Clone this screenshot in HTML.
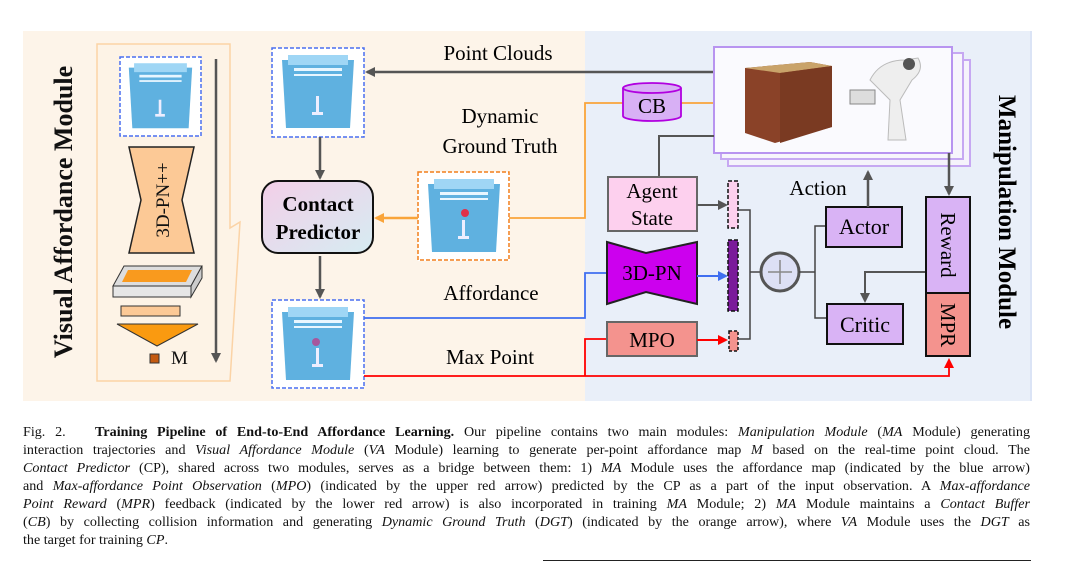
<!DOCTYPE html>
<html><head><meta charset="utf-8"><style>
body{margin:0;background:#fff;}
#w{position:relative;width:1070px;height:564px;overflow:hidden;background:#fff;font-family:"Liberation Serif",serif;}
.cl{position:absolute;left:23px;width:1007px;font-size:14.1px;line-height:18px;text-align:justify;text-align-last:justify;white-space:nowrap;color:#111;}
.cl.last{text-align-last:left;}
svg text{font-family:"Liberation Serif",serif;}
</style></head><body><div id="w">
<svg width="1070" height="410" style="position:absolute;left:0;top:0">
<defs>
<marker id="ag" markerWidth="10" markerHeight="10" refX="8" refY="5" orient="auto" markerUnits="userSpaceOnUse"><path d="M0,0 L10,5 L0,10z" fill="#555"/></marker>
<marker id="ao" markerWidth="10" markerHeight="10" refX="8" refY="5" orient="auto" markerUnits="userSpaceOnUse"><path d="M0,0 L10,5 L0,10z" fill="#f9a43a"/></marker>
<marker id="ab" markerWidth="10" markerHeight="10" refX="8" refY="5" orient="auto" markerUnits="userSpaceOnUse"><path d="M0,0 L10,5 L0,10z" fill="#3f6ef0"/></marker>
<marker id="ar" markerWidth="10" markerHeight="10" refX="8" refY="5" orient="auto" markerUnits="userSpaceOnUse"><path d="M0,0 L10,5 L0,10z" fill="#f00"/></marker>
<linearGradient id="cpg" x1="0" y1="0" x2="1" y2="1"><stop offset="0" stop-color="#f3cfe8"/><stop offset="1" stop-color="#d6ecf2"/></linearGradient>
<g id="cab">
<rect x="0" y="0" width="92" height="89" fill="#fff"/>
<path d="M10,12 L82,12 L78,80 L14,80z" fill="#5fb1e0"/>
<rect x="16" y="7" width="60" height="10" fill="#9fd6f5"/>
<rect x="22" y="20" width="48" height="3" fill="#e8f6ff"/>
<rect x="22" y="26" width="48" height="2" fill="#e8f6ff"/>
<rect x="44" y="48" width="3" height="18" fill="#eef"/>
<rect x="40" y="64" width="11" height="3" fill="#eef"/>
</g>
</defs>
<rect x="23" y="31" width="562" height="370" fill="#fdf4e9"/>
<rect x="585" y="31" width="447" height="370" fill="#e9eff9"/>
<rect x="1030" y="31" width="2" height="370" fill="#dbe4f6"/>
<path d="M97,44 L230,44 L230,228 L240,222 L230,381 L97,381z" fill="#fdf3e6" stroke="#fbd3a6" stroke-width="1.5"/>
<text transform="translate(72,212) rotate(-90)" text-anchor="middle" font-size="26" font-weight="bold" fill="#111">Visual Affordance Module</text>
<g transform="translate(120,57) scale(0.88,0.89)"><use href="#cab"/></g>
<rect x="120" y="57" width="81" height="79" fill="none" stroke="#4a6ff0" stroke-width="1.5" stroke-dasharray="4,2"/>
<path d="M129,147 L194,147 L182,200 L194,253 L129,253 L141,200z" fill="#fcc996" stroke="#222" stroke-width="1.5"/>
<text transform="translate(169,200) rotate(-90)" text-anchor="middle" font-size="19" fill="#111">3D-PN++</text>
<path d="M113,286 L124,266 L202,266 L191,286z" fill="#ddd" stroke="#333" stroke-width="1"/>
<path d="M113,286 L191,286 L191,297 L113,297z" fill="#e6e6e6" stroke="#333" stroke-width="1"/>
<path d="M191,286 L202,266 L202,278 L191,297z" fill="#ccc" stroke="#333" stroke-width="1"/>
<path d="M122,282 L128,270 L192,270 L186,282z" fill="#f99a1e"/>
<rect x="121" y="306" width="59" height="10" fill="#fcc996" stroke="#333" stroke-width="1"/>
<path d="M117,324 L198,324 L157,346z" fill="#fa9a10" stroke="#333" stroke-width="1"/>
<rect x="150" y="354" width="9" height="9" fill="#c45a10" stroke="#333" stroke-width="1"/>
<text x="171" y="364" font-size="19" fill="#111">M</text>
<line x1="216" y1="59" x2="216" y2="361" stroke="#555" stroke-width="2.5" marker-end="url(#ag)"/>
<use href="#cab" x="272" y="48"/>
<rect x="272" y="48" width="92" height="89" fill="none" stroke="#4a6ff0" stroke-width="1.5" stroke-dasharray="4,2"/>
<use href="#cab" x="272" y="300"/>
<circle cx="316" cy="342" r="4" fill="#c43080" opacity="0.7"/>
<rect x="272" y="300" width="92" height="88" fill="none" stroke="#4a6ff0" stroke-width="1.5" stroke-dasharray="4,2"/>
<use href="#cab" x="418" y="172"/>
<circle cx="465" cy="213" r="4" fill="#e0304a"/>
<rect x="418" y="172" width="91" height="88" fill="none" stroke="#f27f1b" stroke-width="1.5" stroke-dasharray="4,2"/>
<rect x="262" y="181" width="111" height="72" rx="16" fill="url(#cpg)" stroke="#111" stroke-width="2"/>
<text x="318" y="211" text-anchor="middle" font-size="21" font-weight="bold">Contact</text>
<text x="318" y="239" text-anchor="middle" font-size="21" font-weight="bold">Predictor</text>
<line x1="320" y1="137" x2="320" y2="178" stroke="#555" stroke-width="2.5" marker-end="url(#ag)"/>
<line x1="320" y1="256" x2="320" y2="297" stroke="#555" stroke-width="2.5" marker-end="url(#ag)"/>
<line x1="418" y1="218" x2="376" y2="218" stroke="#f9a43a" stroke-width="2.5" marker-end="url(#ao)"/>
<text x="498" y="60" text-anchor="middle" font-size="21">Point Clouds</text>
<text x="500" y="123" text-anchor="middle" font-size="21">Dynamic</text>
<text x="500" y="153" text-anchor="middle" font-size="21">Ground Truth</text>
<text x="491" y="300" text-anchor="middle" font-size="21">Affordance</text>
<text x="490" y="364" text-anchor="middle" font-size="21">Max Point</text>
<line x1="714" y1="72" x2="367" y2="72" stroke="#555" stroke-width="2.5" marker-end="url(#ag)"/>
<polyline points="509,218 585,218 585,103 714,103" fill="none" stroke="#f9a43a" stroke-width="1.8"/>
<polyline points="364,318 585,318 585,273 607,273" fill="none" stroke="#3f6ef0" stroke-width="1.8"/>
<polyline points="364,376 949,376 949,360" fill="none" stroke="#f00" stroke-width="1.8" marker-end="url(#ar)"/>
<polyline points="585,376 585,339 607,339" fill="none" stroke="#f00" stroke-width="1.8"/>
<path d="M623,88 L623,116 A29,5 0 0 0 681,116 L681,88" fill="#d8b0f5" stroke="#b100e0" stroke-width="1.8"/>
<ellipse cx="652" cy="88" rx="29" ry="5" fill="#d8b0f5" stroke="#b100e0" stroke-width="1.8"/>
<text x="652" y="113" text-anchor="middle" font-size="21">CB</text>
<rect x="728" y="60" width="242" height="106" fill="#f5f3fb" stroke="#c6a8f2" stroke-width="2"/>
<rect x="721" y="53" width="242" height="106" fill="#f7f5fc" stroke="#c6a8f2" stroke-width="2"/>
<rect x="714" y="47" width="238" height="106" fill="#fafafe" stroke="#b894f0" stroke-width="2"/>
<path d="M745,68 L810,62 L832,66 L832,127 L775,143 L745,133z" fill="#8a4228"/>
<path d="M745,68 L810,62 L832,66 L780,73z" fill="#c9a36a"/>
<path d="M780,73 L832,66 L832,127 L780,143z" fill="#7a3a22"/>
<path d="M870,80 Q880,60 905,60 L918,58 Q925,70 912,80 L900,100 L906,140 L888,140 L890,100z" fill="#eee" stroke="#bbb"/>
<circle cx="909" cy="64" r="6" fill="#555"/>
<rect x="850" y="90" width="25" height="14" fill="#ddd" stroke="#888"/>
<polyline points="714,136 659,136 659,177" fill="none" stroke="#555" stroke-width="2"/>
<rect x="608" y="177" width="89" height="54" fill="#fdd0ee" stroke="#666" stroke-width="2"/>
<text x="652" y="198" text-anchor="middle" font-size="21">Agent</text>
<text x="652" y="225" text-anchor="middle" font-size="21">State</text>
<path d="M607,242 L646,253 L697,242 L697,304 L646,292 L607,304z" fill="#cc00ee" stroke="#222" stroke-width="2"/>
<text x="652" y="280" text-anchor="middle" font-size="21">3D-PN</text>
<rect x="607" y="322" width="90" height="34" fill="#f4938e" stroke="#666" stroke-width="2"/>
<text x="652" y="347" text-anchor="middle" font-size="21">MPO</text>
<line x1="697" y1="205" x2="726" y2="205" stroke="#555" stroke-width="2" marker-end="url(#ag)"/>
<line x1="697" y1="276" x2="726" y2="276" stroke="#3f6ef0" stroke-width="2" marker-end="url(#ab)"/>
<line x1="697" y1="340" x2="726" y2="340" stroke="#f00" stroke-width="2" marker-end="url(#ar)"/>
<rect x="728" y="181" width="10" height="47" fill="#fdd0ee" stroke="#111" stroke-width="1.5" stroke-dasharray="4,2"/>
<rect x="728" y="240" width="10" height="71" fill="#7a1a9a" stroke="#111" stroke-width="1.5" stroke-dasharray="4,2"/>
<rect x="729" y="331" width="9" height="20" fill="#f4938e" stroke="#111" stroke-width="1.5" stroke-dasharray="3,2"/>
<polyline points="739,210 750,210 750,339 739,339" fill="none" stroke="#444" stroke-width="1.5"/>
<line x1="750" y1="272" x2="760" y2="272" stroke="#444" stroke-width="1.5"/>
<circle cx="780" cy="272" r="19" fill="#dde0f5" stroke="#555" stroke-width="3"/>
<line x1="768" y1="272" x2="792" y2="272" stroke="#888" stroke-width="1.5"/><line x1="780" y1="260" x2="780" y2="284" stroke="#888" stroke-width="1.5"/>
<polyline points="826,226 815,226 815,318 827,318" fill="none" stroke="#444" stroke-width="1.5"/>
<line x1="799" y1="272" x2="815" y2="272" stroke="#444" stroke-width="1.5"/>
<rect x="826" y="207" width="76" height="40" fill="#d9b3f5" stroke="#111" stroke-width="2"/>
<text x="864" y="234" text-anchor="middle" font-size="22">Actor</text>
<rect x="827" y="304" width="76" height="40" fill="#d9b3f5" stroke="#111" stroke-width="2"/>
<text x="865" y="332" text-anchor="middle" font-size="22">Critic</text>
<line x1="868" y1="207" x2="868" y2="172" stroke="#555" stroke-width="2.5" marker-end="url(#ag)"/>
<text x="818" y="195" text-anchor="middle" font-size="21">Action</text>
<line x1="949" y1="153" x2="949" y2="194" stroke="#555" stroke-width="2.5" marker-end="url(#ag)"/>
<polyline points="926,272 865,272 865,301" fill="none" stroke="#555" stroke-width="2" marker-end="url(#ag)"/>
<rect x="926" y="197" width="44" height="96" fill="#d9b3f5" stroke="#111" stroke-width="2"/>
<rect x="926" y="293" width="44" height="63" fill="#f4938e" stroke="#111" stroke-width="2"/>
<text transform="translate(941,245) rotate(90)" text-anchor="middle" font-size="21">Reward</text>
<text transform="translate(941,325) rotate(90)" text-anchor="middle" font-size="21">MPR</text>
<text transform="translate(999,212) rotate(90)" text-anchor="middle" font-size="25" font-weight="bold">Manipulation Module</text>
</svg>
<div class="cl" style="top:423px">Fig. 2.&nbsp;&nbsp;&nbsp;<b>Training Pipeline of End-to-End Affordance Learning.</b> Our pipeline contains two main modules: <i>Manipulation Module</i> (<i>MA</i> Module) generating</div>
<div class="cl" style="top:441px">interaction trajectories and <i>Visual Affordance Module</i> (<i>VA</i> Module) learning to generate per-point affordance map <i>M</i> based on the real-time point cloud. The</div>
<div class="cl" style="top:459px"><i>Contact Predictor</i> (CP), shared across two modules, serves as a bridge between them: 1) <i>MA</i> Module uses the affordance map (indicated by the blue arrow)</div>
<div class="cl" style="top:477px">and <i>Max-affordance Point Observation</i> (<i>MPO</i>) (indicated by the upper red arrow) predicted by the CP as a part of the input observation. A <i>Max-affordance</i></div>
<div class="cl" style="top:495px"><i>Point Reward</i> (<i>MPR</i>) feedback (indicated by the lower red arrow) is also incorporated in training <i>MA</i> Module; 2) <i>MA</i> Module maintains a <i>Contact Buffer</i></div>
<div class="cl" style="top:513px">(<i>CB</i>) by collecting collision information and generating <i>Dynamic Ground Truth</i> (<i>DGT</i>) (indicated by the orange arrow), where <i>VA</i> Module uses the <i>DGT</i> as</div>
<div class="cl last" style="top:531px">the target for training <i>CP</i>.</div>
<div style="position:absolute;left:543px;top:560px;width:488px;height:1px;background:#222"></div>
</div></body></html>
